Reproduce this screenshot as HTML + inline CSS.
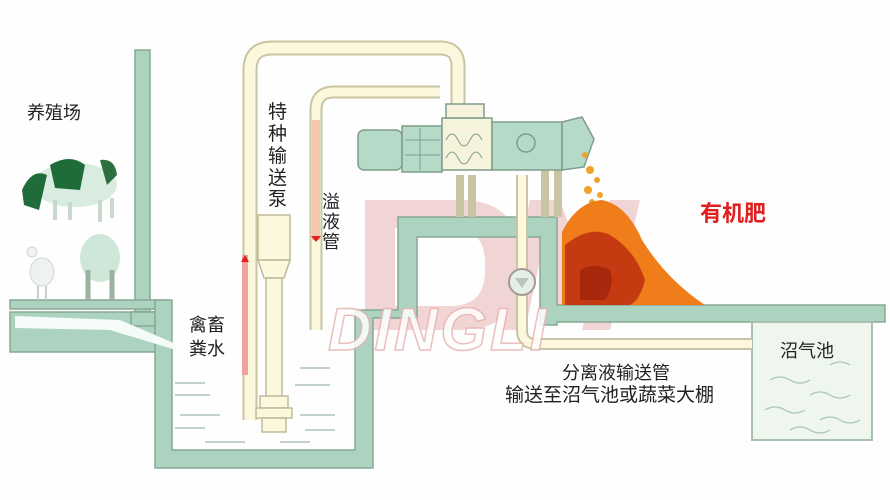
<!DOCTYPE html>
<html><head><meta charset="utf-8"><style>
html,body{margin:0;padding:0;background:#fff;width:890px;height:500px;overflow:hidden}
svg{display:block}
text{font-family:"Liberation Sans","Noto Sans CJK SC",sans-serif}
</style></head><body>
<svg width="890" height="500" viewBox="0 0 890 500" xmlns="http://www.w3.org/2000/svg">
<rect width="890" height="500" fill="#fdfefd"/>
<g fill="#e8b4b4" opacity="0.55">
<path d="M365 200 h95 q60 0 60 60 v10 q0 60 -60 60 h-95 z M395 228 v78 h55 q35 0 35 -35 v-8 q0 -35 -35 -35 z" fill-rule="evenodd"/>
<path d="M500 330 l30 -130 h30 l25 70 l25 -70 h30 l-30 130 h-28 l18 -70 l-22 60 h-18 l-20 -60 l-15 70 z"/>
</g>
<g fill="#abd3c0" stroke="#88a894" stroke-width="1.5">
<rect x="135" y="50" width="15" height="262"/>
<rect x="10" y="300" width="155" height="9"/>
<path d="M10 312 H165 V352 H10 Z"/>
<rect x="131" y="312" width="24" height="14"/>
<path d="M155 300 H172 V450 H355 V310 H398 V217 H557 V305 H885 V322 H557 V325 H540 V237 H417 V318 H373 V468 H155 Z"/>
</g>
<path d="M15 316 L120 320 L176 344 L176 350 L110 330 L15 328 Z" fill="#f4fbf8"/>
<rect x="752" y="322" width="120" height="118" fill="#eef6ee" stroke="#a9bfb0" stroke-width="2"/>
<g stroke="#a7c4b4" fill="none" stroke-width="1.2">
<path d="M770 380 q10 -6 20 0 t20 0"/><path d="M810 395 q10 -6 20 0 t20 0"/><path d="M765 410 q10 -6 20 0 t20 0"/><path d="M820 420 q10 -6 20 0 t20 0"/><path d="M790 430 q10 -6 20 0 t20 0"/><path d="M830 365 q10 -6 20 0"/>
</g>
<g stroke="#9fb8a8" stroke-width="1.3">
<line x1="175" y1="383" x2="205" y2="383"/><line x1="175" y1="395" x2="210" y2="395"/><line x1="180" y1="415" x2="220" y2="415"/><line x1="175" y1="428" x2="205" y2="428"/><line x1="205" y1="442" x2="245" y2="442"/><line x1="300" y1="368" x2="330" y2="368"/><line x1="295" y1="385" x2="330" y2="385"/><line x1="300" y1="415" x2="335" y2="415"/><line x1="305" y1="430" x2="335" y2="430"/><line x1="280" y1="442" x2="310" y2="442"/>
</g>
<g fill="none" stroke-linecap="butt">
<path d="M250 420 V70 q0 -22 22 -22 H440 q18 0 18 18 V105" stroke="#c9c4a2" stroke-width="15"/>
<path d="M250 420 V70 q0 -22 22 -22 H440 q18 0 18 18 V105" stroke="#fbf8dd" stroke-width="11"/>
<path d="M316 330 V110 q0 -18 18 -18 H440" stroke="#c9c4a2" stroke-width="13"/>
<path d="M316 330 V110 q0 -18 18 -18 H440" stroke="#fbf8dd" stroke-width="9"/>
<path d="M522 175 V330 q0 14 14 14 H752" stroke="#c9c4a2" stroke-width="12"/>
<path d="M522 175 V330 q0 14 14 14 H752" stroke="#fbf8dd" stroke-width="8"/>
<path d="M460 175 V217 M472 175 V217 M545 170 V217 M558 170 V217" stroke="#c9c4a2" stroke-width="8"/>
</g>
<rect x="312" y="120" width="8" height="120" fill="#f2c7b0"/>
<rect x="242" y="255" width="6" height="120" fill="#f3a0a0"/>
<path d="M311 236 h10 l-5 6z" fill="#e02020"/><path d="M241 262 h8 l-4 -7z" fill="#e02020"/>
<circle cx="522" cy="282" r="13" fill="#e4efe9" stroke="#a59a90" stroke-width="2"/>
<path d="M515 278 h14 l-7 10z" fill="#b8c4bc"/>
<g fill="#fbf8dd" stroke="#bfbb98" stroke-width="1.5">
<rect x="258" y="215" width="32" height="45"/><path d="M258 260 h32 l-6 18 h-20z"/>
<rect x="266" y="278" width="16" height="120"/>
<rect x="260" y="396" width="28" height="12"/><rect x="256" y="408" width="36" height="10"/><rect x="262" y="418" width="24" height="14"/>
</g>
<g fill="#b5dac8" stroke="#7f9d8b" stroke-width="1.5">
<rect x="358" y="130" width="44" height="40" rx="6"/>
<rect x="402" y="126" width="40" height="46"/>
<rect x="442" y="118" width="50" height="52" fill="#f6f3dc"/>
<rect x="446" y="104" width="38" height="14" fill="#f6f3dc"/>
<rect x="492" y="122" width="70" height="48"/>
<path d="M562 122 l20 -5 l12 22 l-10 28 l-22 3 z"/>
<circle cx="526" cy="143" r="9" fill="none"/>
</g>
<g stroke="#7f9d8b" fill="none" stroke-width="1"><path d="M405 140 h35 M405 155 h35 M420 128 v42"/><path d="M446 140 q6 -12 12 0 t12 0 t12 0 M446 158 q6 -12 12 0 t12 0 t12 0"/></g>
<g fill="#f0a22c"><circle cx="585" cy="155" r="3"/><circle cx="590" cy="170" r="4"/><circle cx="597" cy="180" r="3"/><circle cx="588" cy="190" r="4"/><circle cx="600" cy="195" r="3"/><circle cx="592" cy="202" r="3"/></g>
<path d="M562 232 q15 -30 40 -32 q25 5 40 40 q25 40 63 65 H562 z" fill="#ef7d1a"/>
<path d="M565 245 q25 -20 45 -10 q25 15 35 45 q-5 20 -15 25 H565 z" fill="#c63a12"/>
<path d="M580 270 q15 -8 30 0 q5 15 -5 30 h-25 z" fill="#a8280e"/>
<g>
<ellipse cx="75" cy="185" rx="42" ry="22" fill="#d8ecdf"/>
<path d="M50 165 q20 -12 35 0 l-5 25 l-25 -2z" fill="#1f6b3a"/>
<path d="M22 190 q10 -22 25 -15 l-8 35 l-15 -5z" fill="#1f6b3a"/>
<path d="M100 160 q15 -2 17 15 l-10 10z" fill="#2d6f40"/>
<path d="M55 200 v20 M70 202 v18 M100 200 v22 M112 198 v20" stroke="#c8d8cc" stroke-width="4"/>
<ellipse cx="100" cy="258" rx="20" ry="24" fill="#cfe7d8"/>
<path d="M88 270 v30 M112 270 v30" stroke="#9ab2a0" stroke-width="5"/>
<ellipse cx="42" cy="272" rx="12" ry="14" fill="#eef3ef" stroke="#cdd8d0"/>
<circle cx="32" cy="252" r="5" fill="#eef3ef" stroke="#cdd8d0"/>
<path d="M38 286 v14 M46 286 v14" stroke="#ccc" stroke-width="2"/>
</g>
<g fill="#222" font-size="18">
<text x="27" y="119">养殖场</text>
<text font-size="19"><tspan x="268" y="118">特</tspan><tspan x="268" y="140">种</tspan><tspan x="268" y="162">输</tspan><tspan x="268" y="184">送</tspan><tspan x="268" y="205">泵</tspan></text>
<text font-size="18"><tspan x="322" y="208">溢</tspan><tspan x="322" y="228">液</tspan><tspan x="322" y="248">管</tspan></text>
<text font-size="18"><tspan x="189" y="331">禽畜</tspan><tspan x="189" y="355">粪水</tspan></text>
<text x="780" y="357">沼气池</text>
<text x="562" y="379">分离液输送管</text>
<text x="505" y="401" font-size="19">输送至沼气池或蔬菜大棚</text>
</g>
<text x="700" y="221" font-size="22" font-weight="bold" fill="#e02020">有机肥</text>
<text x="328" y="350" font-size="60" font-weight="bold" font-style="italic" fill="#ffffff" stroke="#e8b4b4" stroke-width="1.5" opacity="0.85" letter-spacing="3">DINGLI</text>
</svg>
</body></html>
